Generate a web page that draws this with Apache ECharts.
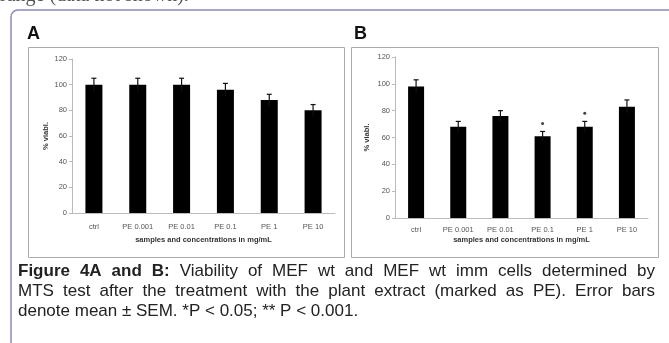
<!DOCTYPE html>
<html>
<head>
<meta charset="utf-8">
<script src="https://cdn.jsdelivr.net/npm/echarts@6/dist/echarts.min.js"></script>
<style>
  html, body { margin: 0; padding: 0; background: #fff; }
  #chart { width: 669px; height: 343px; }
</style>
</head>
<body>
<div id="chart"></div>
<script>
// data
const categories = ['ctrl', 'PE 0.001', 'PE 0.01', 'PE 0.1', 'PE 1', 'PE 10'];
const viabA = [100, 100, 100, 96, 88, 80];
const semA = [5, 5, 5, 5, 4.5, 4.5];
const viabB = [98, 68, 76, 61, 68, 83];
const semB = [5, 4, 4, 3.5, 4, 5];
const sigB = ['', '', '', '*', '*', ''];
const yTicks = [0, 20, 40, 60, 80, 100, 120];

const captionLines = [
  {bold: 'Figure 4A and B:', text: 'Viability of MEF wt and MEF wt imm cells determined by', justify: true},
  {bold: '', text: 'MTS test after the treatment with the plant extract (marked as PE). Error bars', justify: true},
  {bold: '', text: 'denote mean \u00b1 SEM. *P < 0.05; ** P < 0.001.', justify: false}
];

const FONT = '"Liberation Sans", Arial, sans-serif';
const chart = echarts.init(document.getElementById('chart'), null, {renderer: 'canvas'});

// caption: one text per word so lines can be justified like the original
const measure = document.createElement('canvas').getContext('2d');
function captionWords(line, y) {
  const words = [];
  line.bold.split(' ').filter(Boolean).forEach(w => words.push({w, bold: true}));
  line.text.split(' ').filter(Boolean).forEach(w => words.push({w, bold: false}));
  const size = 17;
  words.forEach(o => {
    measure.font = (o.bold ? 'bold ' : '') + size + 'px ' + FONT;
    o.width = measure.measureText(o.w).width;
  });
  measure.font = size + 'px ' + FONT;
  const space = measure.measureText(' ').width;
  const left = 18, right = 655;
  const total = words.reduce((s, o) => s + o.width, 0);
  const gap = line.justify ? (right - left - total) / (words.length - 1) : space;
  let x = left;
  return words.map(o => {
    const el = {
      type: 'text', x, y,
      style: {text: o.w, font: (o.bold ? 'bold ' : '') + size + 'px ' + FONT, fill: '#222', verticalAlign: 'middle'}
    };
    x += o.width + gap;
    return el;
  });
}

function xAxis(idx, margin, nameGap) {
  return {
    type: 'category', gridIndex: idx, data: categories,
    axisLine: {lineStyle: {color: '#bbb'}},
    axisTick: {show: false},
    axisLabel: {color: '#555', fontSize: 7.5, margin, fontFamily: FONT, interval: 0},
    name: 'samples and concentrations in mg/mL',
    nameLocation: 'middle', nameGap,
    nameTextStyle: {color: '#333', fontSize: 7.5, fontWeight: 'bold', fontFamily: FONT}
  };
}

function yAxis(idx, nameGap) {
  return {
    type: 'value', gridIndex: idx,
    min: yTicks[0], max: yTicks[yTicks.length - 1], interval: yTicks[1] - yTicks[0],
    axisLine: {show: true, lineStyle: {color: '#bbb'}},
    axisTick: {show: true, length: 3, lineStyle: {color: '#bbb'}},
    splitLine: {show: false},
    axisLabel: {color: '#555', fontSize: 7.5, margin: 5, fontFamily: FONT},
    name: '% viabl.', nameLocation: 'middle', nameRotate: 90, nameGap,
    nameTextStyle: {color: '#333', fontSize: 7.5, fontWeight: 'bold', fontFamily: FONT}
  };
}

function barSeries(idx, vals, width) {
  return {
    type: 'bar', xAxisIndex: idx, yAxisIndex: idx, data: vals,
    barWidth: width, itemStyle: {color: '#000'}, silent: true, animation: false
  };
}

function errSeries(idx, vals, sem) {
  return {
    type: 'custom', xAxisIndex: idx, yAxisIndex: idx, z: 3, silent: true, animation: false,
    data: vals.map((v, i) => [i, v - sem[i], v + sem[i]]),
    renderItem: (params, api) => {
      const lo = api.coord([api.value(0), api.value(1)]);
      const hi = api.coord([api.value(0), api.value(2)]);
      const w = 2.5;
      const st = {stroke: '#111', lineWidth: 1.2};
      return {
        type: 'group', children: [
          {type: 'line', shape: {x1: lo[0], y1: lo[1], x2: hi[0], y2: hi[1]}, style: st},
          {type: 'line', shape: {x1: hi[0] - w, y1: hi[1], x2: hi[0] + w, y2: hi[1]}, style: st}
        ]
      };
    }
  };
}

const stars = sigB.map((s, i) => s ? [i, viabB[i] + semB[i] + 6] : null).filter(Boolean);

chart.setOption({
  backgroundColor: '#fff',
  animation: false,
  grid: [
    {left: 72, top: 59, width: 263, height: 154},
    {left: 395, top: 57, width: 253, height: 161}
  ],
  xAxis: [xAxis(0, 10, 23), xAxis(1, 8, 18)],
  yAxis: [yAxis(0, 22), yAxis(1, 24)],
  series: [
    barSeries(0, viabA, 17),
    errSeries(0, viabA, semA),
    barSeries(1, viabB, 16),
    errSeries(1, viabB, semB),
    {
      type: 'scatter', xAxisIndex: 1, yAxisIndex: 1, data: stars,
      symbol: 'circle', symbolSize: 3, itemStyle: {color: '#111'}, silent: true
    }
  ],
  graphic: [
    {
      type: 'text', x: 0, y: 6,
      style: {text: 'range (data not shown).', font: '20px "Liberation Serif", serif', fill: '#555', verticalAlign: 'bottom'}
    },
    {
      type: 'rect', shape: {x: 11, y: 10, width: 720, height: 400, r: 7},
      style: {fill: null, stroke: '#8a8abd', lineWidth: 1.5}, z: -1
    },
    {type: 'rect', shape: {x: 28.5, y: 47.5, width: 316, height: 210}, style: {fill: null, stroke: '#aaa', lineWidth: 1}, z: -1},
    {type: 'rect', shape: {x: 351.5, y: 47.5, width: 307, height: 210}, style: {fill: null, stroke: '#aaa', lineWidth: 1}, z: -1},
    {type: 'text', x: 27, y: 34, style: {text: 'A', font: 'bold 18px ' + FONT, fill: '#111', verticalAlign: 'middle'}},
    {type: 'text', x: 354, y: 34, style: {text: 'B', font: 'bold 18px ' + FONT, fill: '#111', verticalAlign: 'middle'}},
    ...captionWords(captionLines[0], 271),
    ...captionWords(captionLines[1], 291),
    ...captionWords(captionLines[2], 311)
  ]
});
</script>
</body>
</html>
